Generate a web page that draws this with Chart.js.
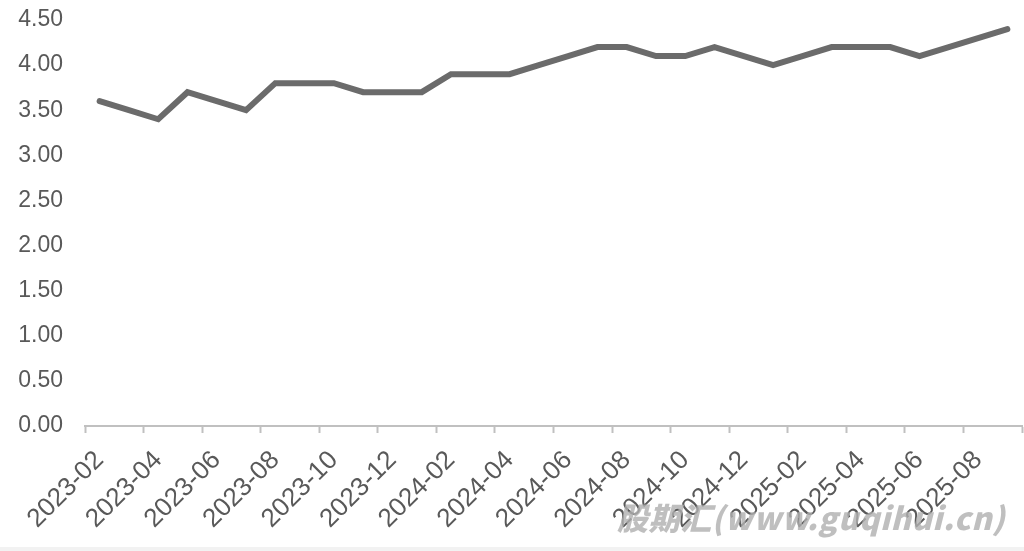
<!DOCTYPE html>
<html>
<head>
<meta charset="utf-8">
<script src="https://cdn.jsdelivr.net/npm/chart.js@4/dist/chart.umd.min.js"></script>
<style>
  html, body { margin: 0; padding: 0; background: #fff; }
  #wrap { position: relative; width: 1024px; height: 547px; }
  #band { width: 1024px; height: 4px; background: #f2f2f2; }
  #mark {
    position: absolute; left: 617px; top: 494px;
    font-family: "Noto Sans CJK SC", "Liberation Sans", sans-serif;
    font-size: 31px; font-weight: 900; font-style: italic;
    color: rgba(175, 175, 175, 0.8); letter-spacing: 0.6px;
    pointer-events: none;
  }
</style>
</head>
<body>
<div id="wrap">
  <canvas id="my-chart" width="1024" height="547"></canvas>
  <div id="mark">股期汇(www.guqihui.cn)</div>
</div>
<div id="band"></div>
<script>
'use strict';

// ******DATA******
let months = [
  '2023-02', '2023-03', '2023-04', '2023-05', '2023-06', '2023-07', '2023-08', '2023-09',
  '2023-10', '2023-11', '2023-12', '2024-01', '2024-02', '2024-03', '2024-04', '2024-05',
  '2024-06', '2024-07', '2024-08', '2024-09', '2024-10', '2024-11', '2024-12', '2025-01',
  '2025-02', '2025-03', '2025-04', '2025-05', '2025-06', '2025-07', '2025-08', '2025-09'
];

let values = [
  3.6, 3.5, 3.4, 3.7, 3.6, 3.5, 3.8, 3.8,
  3.8, 3.7, 3.7, 3.7, 3.9, 3.9, 3.9, 4.0,
  4.1, 4.2, 4.2, 4.1, 4.1, 4.2, 4.1, 4.0,
  4.1, 4.2, 4.2, 4.2, 4.1, 4.2, 4.3, 4.4
];

let yTicks = [0, 0.5, 1, 1.5, 2, 2.5, 3, 3.5, 4, 4.5];

let canvasElem = document.getElementById('my-chart').getContext('2d');

let textColor = '#595959';

let myChartObj = {
  type: 'line',
  data: {
    labels: months,
    datasets: [{
      data: values,
      borderColor: '#6b6b6b',
      borderWidth: 6,
      borderCapStyle: 'round',
      borderJoinStyle: 'miter',
      pointRadius: 0,
      tension: 0,
      fill: false
    }]
  },
  options: {
    responsive: false,
    animation: false,
    layout: { padding: { top: 20, right: 2, left: 0, bottom: 0 } },
    plugins: {
      legend: { display: false },
      tooltip: { enabled: false }
    },
    scales: {
      x: {
        offset: true,
        border: { color: '#c0c0c0', width: 2 },
        grid: {
          offset: true,
          drawOnChartArea: false,
          drawTicks: true,
          tickLength: 7,
          tickWidth: 2,
          // only every second category boundary gets a tick mark
          tickColor: function (ctx) {
            if (ctx.index === undefined || ctx.index % 2 === 0) {
              return '#c0c0c0';
            }
            return 'rgba(0,0,0,0)';
          }
        },
        afterFit: function (axis) {
          axis.height = 121;
          axis.paddingLeft = 0;
          axis.paddingRight = 0;
        },
        ticks: {
          autoSkip: false,
          maxRotation: 45,
          minRotation: 45,
          padding: 12,
          color: textColor,
          font: { family: 'Liberation Sans', size: 26 },
          callback: function (val, i) {
            return i % 2 === 0 ? months[i] : '';
          }
        }
      },
      y: {
        min: 0,
        max: 4.5,
        border: { display: false },
        grid: { display: false },
        afterBuildTicks: function (axis) {
          axis.ticks = yTicks.map(function (v) { return { value: v }; });
        },
        afterFit: function (axis) {
          axis.width = 85;
          axis.paddingTop = 0;
          axis.paddingBottom = 0;
        },
        ticks: {
          padding: 14,
          color: textColor,
          font: { family: 'Liberation Sans', size: 23, lineHeight: 1 },
          callback: function (v) { return Number(v).toFixed(2); }
        }
      }
    }
  }
};

new Chart(canvasElem, myChartObj);
</script>
</body>
</html>
